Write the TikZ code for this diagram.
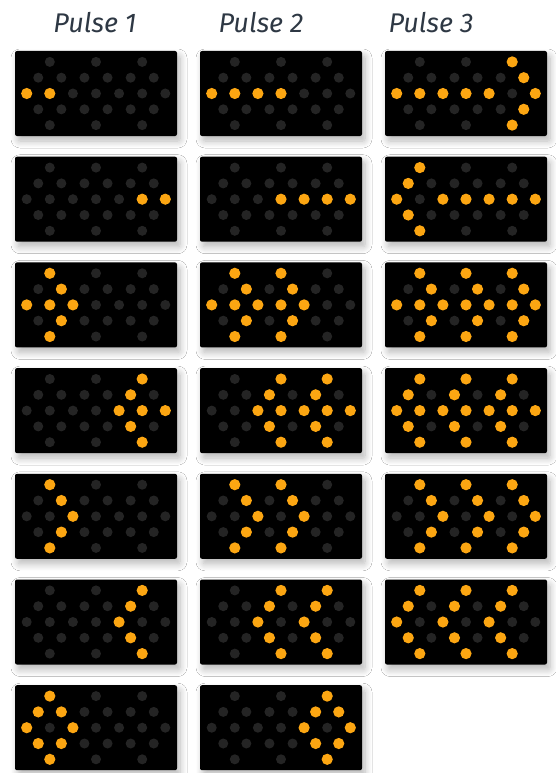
\documentclass[tikz,border=0pt]{standalone}
\usepackage{fontspec}
\setmainfont{Fira Sans}
\usepackage{tikz}
\usepackage{xcolor}
\usetikzlibrary{shadows.blur}
\definecolor{cLed}{RGB}{252,166,18}
\definecolor{cDim}{RGB}{36,36,36}
\definecolor{cTitle}{RGB}{46,56,68}
\tikzset{
	panel/.style   ={fill=black, rounded corners=2pt, blur shadow={shadow xshift=3pt, shadow yshift=-5pt, shadow blur radius=7pt, shadow blur steps=8, shadow opacity=28}},
	ledoff/.style  ={fill=cDim},
	ledon/.style   ={fill=cLed},
	pulse/.style   ={font=\itshape\fontsize{27}{32}\selectfont, text=cTitle, inner sep=0pt},
}
% one sign board: centre x, centre y, lit lamps as col/row
\newcommand{\ledpanel}[3]{%
	\fill[panel] (#1-81,#2-42.5) rectangle (#1+81,#2+42.5);
	\foreach \c in {2,6,10} \foreach \r in {0,4}
		\fill[ledoff] (#1+\c*11.55-69.3,#2+\r*15.8-31.6) circle (5pt);
	\foreach \c in {1,3,5,7,9,11} \foreach \r in {1,3}
		\fill[ledoff] (#1+\c*11.55-69.3,#2+\r*15.8-31.6) circle (5pt);
	\foreach \c in {0,2,...,12}
		\fill[ledoff] (#1+\c*11.55-69.3,#2) circle (5pt);
	\foreach \c/\r in {#3}
		\fill[ledon] (#1+\c*11.55-69.3,#2+\r*15.8-31.6) circle (5.6pt);
}

\begin{document}
\begin{tikzpicture}[x=1pt, y=-1pt]
	\useasboundingbox[fill=white] (0,0) rectangle (556,773);
	% column heads
	\node[pulse] (pulse1) at (95,23) {Pulse 1};
	\node[pulse] (pulse2) at (261,23) {Pulse 2};
	\node[pulse] (pulse3) at (431,23) {Pulse 3};
	% arrow right
	\ledpanel{96}{93.5}{0/2,2/2}
	\ledpanel{281}{93.5}{0/2,2/2,4/2,6/2}
	\ledpanel{466}{93.5}{0/2,2/2,4/2,6/2,8/2,12/2,11/1,11/3,10/0,10/4}
	% arrow left
	\ledpanel{96}{199.2}{10/2,12/2}
	\ledpanel{281}{199.2}{6/2,8/2,10/2,12/2}
	\ledpanel{466}{199.2}{0/2,4/2,6/2,8/2,10/2,12/2,1/1,1/3,2/0,2/4}
	% chevrons with centre bar, right
	\ledpanel{96}{304.9}{2/0,3/1,0/2,2/2,4/2,3/3,2/4}
	\ledpanel{281}{304.9}{2/0,6/0,3/1,7/1,0/2,2/2,4/2,6/2,8/2,3/3,7/3,2/4,6/4}
	\ledpanel{466}{304.9}{2/0,6/0,10/0,3/1,7/1,11/1,0/2,2/2,4/2,6/2,8/2,10/2,12/2,3/3,7/3,11/3,2/4,6/4,10/4}
	% chevrons with centre bar, left
	\ledpanel{96}{410.6}{10/0,9/1,8/2,10/2,12/2,9/3,10/4}
	\ledpanel{281}{410.6}{6/0,10/0,5/1,9/1,4/2,6/2,8/2,10/2,12/2,5/3,9/3,6/4,10/4}
	\ledpanel{466}{410.6}{2/0,6/0,10/0,1/1,5/1,9/1,0/2,2/2,4/2,6/2,8/2,10/2,12/2,1/3,5/3,9/3,2/4,6/4,10/4}
	% chevrons right
	\ledpanel{96}{516.3}{2/0,3/1,4/2,3/3,2/4}
	\ledpanel{281}{516.3}{2/0,6/0,3/1,7/1,4/2,8/2,3/3,7/3,2/4,6/4}
	\ledpanel{466}{516.3}{2/0,6/0,10/0,3/1,7/1,11/1,4/2,8/2,12/2,3/3,7/3,11/3,2/4,6/4,10/4}
	% chevrons left
	\ledpanel{96}{622}{10/0,9/1,8/2,9/3,10/4}
	\ledpanel{281}{622}{6/0,10/0,5/1,9/1,4/2,8/2,5/3,9/3,6/4,10/4}
	\ledpanel{466}{622}{2/0,6/0,10/0,1/1,5/1,9/1,0/2,4/2,8/2,1/3,5/3,9/3,2/4,6/4,10/4}
	% diamonds
	\ledpanel{96}{727.7}{2/0,1/1,3/1,0/2,4/2,1/3,3/3,2/4}
	\ledpanel{281}{727.7}{10/0,9/1,11/1,8/2,12/2,9/3,11/3,10/4}
\end{tikzpicture}
\end{document}
